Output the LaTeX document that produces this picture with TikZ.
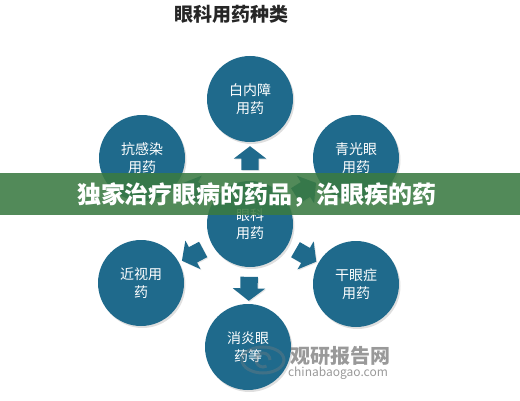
\documentclass[tikz,border=0pt]{standalone}
\usepackage{fontspec}
\newfontfamily\cjk{Noto Sans CJK SC}
\usepackage{tikz}
\usetikzlibrary{calc, shapes.arrows, shadows}
\definecolor{eyeblue}{RGB}{31,106,140}
\definecolor{bannergreen}{RGB}{58,122,66}

\begin{document}
\begin{tikzpicture}[x=1pt, y=1pt, every node/.style={font=\cjk},
  yao/.style={circle, fill=eyeblue, minimum size=86pt, inner sep=0pt,
    text=white, align=center, font=\cjk\fontsize{14}{18}\selectfont,
    drop shadow={shadow xshift=1.5pt, shadow yshift=-2pt, opacity=0.25}},
  jiantou/.style={single arrow, fill=eyeblue, inner sep=0pt, inner ysep=8.5pt,
    single arrow head extend=7.5pt, single arrow tip angle=105,
    minimum height=24pt,
    drop shadow={shadow xshift=1pt, shadow yshift=-1pt, opacity=0.2}}]
  \useasboundingbox (0,0) rectangle (520,400);

  \node[font=\cjk\bfseries\fontsize{19}{22}\selectfont, text=black!85] (biaoti) at (231,386) {眼科用药种类};

  % circles
  \node[yao] (zhong) at (250,176) {眼科\\用药};
  \foreach \n/\x/\y/\w in {bainei/250/301/白内障\\用药, kang/142/242/抗感染\\用药,
      qing/356/242/青光眼\\用药, jinshi/141/117/近视用\\药,
      ganyan/356/116/干眼症\\用药, xiaoyan/248/53/消炎眼\\药等} {
    \node[yao] (\n) at (\x,\y) {\w};
  }

  % block arrows between centre and outer circles
  \foreach \n/\a in {bainei/90, kang/149, qing/32, jinshi/208, ganyan/-30, xiaoyan/-91} {
    \node[jiantou, rotate=\a] (j\n) at ($(zhong)!0.5!(\n)$) {};
  }

  % watermark
  \draw[gray, opacity=0.35, line width=3pt] (263,40) ellipse (21 and 13);
  \draw[gray, opacity=0.35, line width=3pt] (270,40) arc (0:300:7);
  \node[font=\cjk\bfseries\fontsize{20}{22}\selectfont, text=gray, opacity=0.8] (wzi) at (340,44) {观研报告网};
  \node[font=\cjk\fontsize{12}{14}\selectfont, text=gray, opacity=0.8] (wurl) at (338,27) {chinabaogao.com};

  % banner
  \fill[bannergreen, opacity=0.88] (0,185) rectangle (520,227);
  \node[font=\cjk\bfseries\fontsize{24}{26}\selectfont, text=white] (banner) at (257,205) {独家治疗眼病的药品，治眼疾的药};
\end{tikzpicture}
\end{document}
